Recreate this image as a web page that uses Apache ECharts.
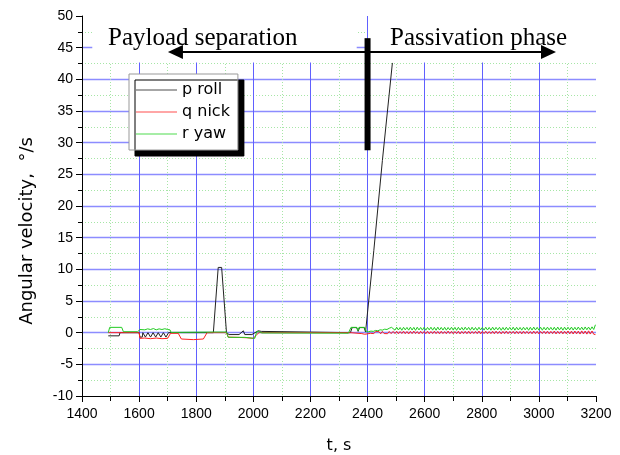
<!DOCTYPE html>
<html>
<head>
<meta charset="utf-8">
<script src="https://cdn.jsdelivr.net/npm/echarts@6/dist/echarts.min.js"></script>
<style>
html,body{margin:0;padding:0;background:#fff;}
#chart{width:620px;height:455px;}
</style>
</head>
<body>
<div id="chart"></div>
<script>
// ---- data ----
const seriesNames = ['p roll', 'q nick', 'r yaw'];
const xTicks = { min: 1400, max: 3200, step: 200 };
const yTicks = { min: -10, max: 50, step: 5 };

// p roll [t, deg/s]
const pRoll = [[1492,-0.5],[1530,-0.5],[1533,0],[1567,0],[1600,0],[1603,-0.7],[1611,-0.7],[1613,0],[1620,0],[1622,-0.7],[1629,-0.7],[1631,0],[1638,0],[1640,-0.7],[1647,-0.7],[1649,0],[1656,0],[1658,-0.7],[1665,-0.7],[1667,0],[1674,0],[1676,-0.7],[1683,-0.7],[1685,0],[1692,0],[1694,-0.7],[1701,-0.7],[1703,0],[1860,0],[1877,10.3],[1889,10.3],[1906,0],[1915,-0.3],[1950,-0.3],[1965,0.3],[1970,-0.3],[1995,-0.3],[2017,0.3],[2028,0.2],[2035,0],[2340,0],[2346,0.8],[2362,0.8],[2367,0.2],[2372,0.8],[2388,0.8],[2393,0.1],[2398,0.3],[2422,13],[2452,27.2],[2487,42.6]];

// q nick head [t, deg/s]
const qNickHead = [[1492,0],[1600,0],[1603,-0.9],[1620,-0.85],[1640,-0.95],[1660,-0.85],[1680,-0.95],[1700,-0.9],[1706,-0.9],[1710,-0.1],[1737,-0.1],[1748,-1.0],[1790,-1.1],[1825,-1.0],[1838,0],[1906,0],[1912,-0.7],[1950,-0.75],[1975,-0.8],[2000,-0.9],[2012,-0.3],[2020,0],[2340,0],[2345,-0.15],[2380,-0.15],[2390,-0.25],[2398,-0.2],[2410,-0.1],[2416,0.15],[2422,-0.15],[2428,0.18],[2434,-0.12],[2440,0.16],[2446,-0.18],[2452,0.2],[2458,-0.14],[2464,0.17],[2470,-0.16],[2476,0.19],[2482,-0.15]];

// r yaw head [t, deg/s]
const rYawHead = [[1492,0],[1497,0.84],[1539,0.84],[1545,0.15],[1595,0.15],[1603,0.5],[1610,0.62],[1620,0.45],[1630,0.6],[1640,0.5],[1650,0.65],[1660,0.45],[1670,0.6],[1680,0.5],[1690,0.62],[1700,0.5],[1708,0.45],[1712,0.05],[1860,0.1],[1906,0.1],[1912,-0.74],[1970,-0.74],[1976,-0.9],[2005,-0.9],[2012,0.15],[2020,0.15],[2030,-0.05],[2333,-0.08],[2342,0.84],[2362,0.84],[2366,0.3],[2370,0.84],[2390,0.84],[2396,0.15],[2404,0.15],[2412,0.25],[2420,0.2],[2428,0.35],[2436,0.3],[2444,0.45],[2452,0.4],[2460,0.55],[2468,0.5],[2476,0.7],[2484,0.84]];

// passivation-phase oscillation, sampled every 6 s from t = 2490
const tailStart = 2490, tailStep = 6;
const rYawTail = [0.84,0.40,0.86,0.42,0.82,0.38,0.85,0.44,0.83,0.40,
0.87,0.41,0.84,0.37,0.86,0.43,0.82,0.40,0.85,0.39,
0.83,0.44,0.86,0.40,0.84,0.38,0.87,0.42,0.83,0.41,
0.85,0.39,0.82,0.43,0.86,0.40,0.84,0.37,0.85,0.42,
0.83,0.40,0.87,0.44,0.84,0.39,0.86,0.41,0.82,0.38,
0.85,0.43,0.84,0.40,0.86,0.42,0.83,0.39,0.87,0.41,
0.84,0.44,0.85,0.38,0.83,0.40,0.86,0.43,0.84,0.41,
0.87,0.39,0.85,0.42,0.83,0.40,0.86,0.44,0.84,0.38,
0.85,0.41,0.88,0.43,0.84,0.40,0.86,0.39,0.85,0.42,
0.87,0.44,0.84,0.41,0.86,0.40,0.88,0.43,0.85,0.39,
0.87,0.42,0.86,0.44,0.88,0.41,0.85,0.43,0.89,0.45,
0.87,0.42,0.90,0.46,0.88,0.44,0.92,0.50,1.25];
const qNickTail = [0.20,-0.15,0.22,-0.18,0.18,-0.14,0.24,-0.17,0.19,-0.20,
0.21,-0.16,0.25,-0.15,0.18,-0.19,0.22,-0.14,0.20,-0.17,
0.23,-0.18,0.19,-0.15,0.24,-0.16,0.20,-0.19,0.22,-0.15,
0.18,-0.17,0.25,-0.14,0.21,-0.18,0.19,-0.16,0.23,-0.20,
0.20,-0.15,0.22,-0.17,0.24,-0.18,0.19,-0.14,0.21,-0.16,
0.25,-0.19,0.20,-0.15,0.23,-0.17,0.18,-0.16,0.22,-0.18,
0.24,-0.15,0.20,-0.19,0.21,-0.16,0.25,-0.17,0.19,-0.14,
0.22,-0.18,0.23,-0.16,0.20,-0.20,0.24,-0.15,0.21,-0.17,
0.19,-0.18,0.25,-0.16,0.22,-0.19,0.20,-0.15,0.23,-0.17,
0.24,-0.18,0.21,-0.16,0.26,-0.20,0.22,-0.17,0.24,-0.19,
0.23,-0.18,0.27,-0.20,0.24,-0.21,0.26,-0.19,0.25,-0.22,
0.28,-0.20,0.26,-0.23,0.29,-0.22,0.27,-0.25,-0.30];

// annotation anchors in data units
const labelLeft = { text: 'Payload separation', t: 1491, v: 46.5 };
const labelRight = { text: 'Passivation phase', t: 2479, v: 46.5 };
const arrow = { t1: 1701, t2: 3060, v: 44.3 };
const bar = { t: 2400, v1: 28.8, v2: 46.5 };
const maskV = 42.65;

// ---- build ----
const tail = (arr) => arr.map((v, i) => [tailStart + i * tailStep, v]);
const qNick = qNickHead.concat(tail(qNickTail));
const rYaw = rYawHead.concat(tail(rYawTail));

const chart = echarts.init(document.getElementById('chart'), null, { renderer: 'canvas' });
const axisFont = { fontFamily: 'Liberation Sans, Arial, sans-serif', fontSize: 14, color: '#000', formatter: (v) => String(v) };
const blueV = '#6060ff';
const blueH = '#8c8cff';
const green = '#a6e6a6';

chart.setOption({
  animation: false,
  backgroundColor: '#fff',
  grid: { left: 82, right: 24, top: 16, bottom: 59, containLabel: false, outerBoundsMode: 'none' },
  legend: {
    data: seriesNames.map((n) => ({ name: n, icon: 'rect' })),
    orient: 'vertical', left: 129, top: 74,
    padding: [8, 8, 8, 7],
    itemWidth: 41, itemHeight: 2, itemGap: 6,
    backgroundColor: '#fff', borderColor: '#999', borderWidth: 1,
    shadowColor: '#000', shadowOffsetX: 6, shadowOffsetY: 6, shadowBlur: 0.01,
    itemStyle: { opacity: 0.35 },
    textStyle: { fontFamily: 'DejaVu Sans, sans-serif', fontSize: 16, color: '#000' }
  },
  xAxis: {
    type: 'value', min: xTicks.min, max: xTicks.max, interval: xTicks.step,
    name: 't, s', nameLocation: 'middle', nameGap: 42,
    nameTextStyle: { fontFamily: 'DejaVu Sans, sans-serif', fontSize: 16, color: '#000' },
    axisLine: { onZero: false, lineStyle: { color: '#000', width: 1 } },
    axisTick: { inside: false, length: 6, lineStyle: { color: '#000' } },
    minorTick: { show: true, splitNumber: 2, length: 5, lineStyle: { color: '#000' } },
    axisLabel: Object.assign({ margin: 11 }, axisFont),
    splitLine: { show: true, showMinLine: false, showMaxLine: false, lineStyle: { color: blueV, width: 1 } },
    minorSplitLine: { show: true, lineStyle: { color: green, type: [1, 2], width: 1 } }
  },
  yAxis: {
    type: 'value', min: yTicks.min, max: yTicks.max, interval: yTicks.step,
    name: 'Angular velocity,  \u00b0/s', nameLocation: 'middle', nameGap: 46, nameRotate: 90,
    nameTextStyle: { fontFamily: 'DejaVu Sans, sans-serif', fontSize: 18, color: '#000', padding: [0, 50, 0, 0] },
    axisLine: { onZero: false, lineStyle: { color: '#000', width: 1 } },
    axisTick: { inside: false, length: 6, lineStyle: { color: '#000' } },
    minorTick: { show: true, splitNumber: 2, length: 4, lineStyle: { color: '#000' } },
    axisLabel: Object.assign({ margin: 9 }, axisFont),
    splitLine: { show: true, showMinLine: false, showMaxLine: false, lineStyle: { color: blueH, width: 1.3 } },
    minorSplitLine: { show: true, lineStyle: { color: green, type: [1, 2], width: 1 } }
  },
  series: [
    { name: seriesNames[0], type: 'line', data: pRoll, symbol: 'none', color: '#000', lineStyle: { color: '#222', width: 1 }, z: 2 },
    { name: seriesNames[1], type: 'line', data: qNick, symbol: 'none', color: '#ff0000', lineStyle: { color: '#ff2020', width: 1 }, z: 3 },
    { name: seriesNames[2], type: 'line', data: rYaw, symbol: 'none', color: '#00cc00', lineStyle: { color: '#22cc22', width: 1 }, z: 4 }
  ]
});

const P = (t, v) => chart.convertToPixel({ gridIndex: 0 }, [t, v]);
const maskY = P(2400, maskV)[1];
const mL1 = P(1436, 0)[0], mL2 = P(2362, 0)[0], mR1 = P(2404, 0)[0];
const aY = P(arrow.t1, arrow.v)[1];
const a1 = P(arrow.t1, arrow.v)[0], a2 = P(arrow.t2, arrow.v)[0];
const bx = P(bar.t, 0)[0], by1 = P(bar.t, bar.v2)[1], by2 = P(bar.t, bar.v1)[1];
const serif = '25px "Liberation Serif", "Times New Roman", serif';

chart.setOption({
  graphic: [
    { type: 'rect', z: 50, shape: { x: mL1, y: 0, width: mL2 - mL1, height: maskY }, style: { fill: '#fff' } },
    { type: 'rect', z: 50, shape: { x: mR1, y: 0, width: 620 - mR1, height: maskY }, style: { fill: '#fff' } },
    { type: 'text', z: 60, style: { text: labelLeft.text, x: P(labelLeft.t, 0)[0], y: P(0, labelLeft.v)[1], font: serif, fill: '#000', textAlign: 'left', textVerticalAlign: 'middle' } },
    { type: 'text', z: 60, style: { text: labelRight.text, x: P(labelRight.t, 0)[0], y: P(0, labelRight.v)[1], font: serif, fill: '#000', textAlign: 'left', textVerticalAlign: 'middle' } },
    { type: 'line', z: 60, shape: { x1: a1 + 6, y1: aY, x2: a2 - 6, y2: aY }, style: { stroke: '#000', lineWidth: 2 } },
    { type: 'polygon', z: 60, shape: { points: [[a1, aY], [a1 + 15, aY - 7], [a1 + 15, aY + 7]] }, style: { fill: '#000' } },
    { type: 'polygon', z: 60, shape: { points: [[a2, aY], [a2 - 15, aY - 7], [a2 - 15, aY + 7]] }, style: { fill: '#000' } },
    { type: 'rect', z: 60, shape: { x: bx - 3, y: by1, width: 6, height: by2 - by1 }, style: { fill: '#000' } }
  ]
});
</script>
</body>
</html>
